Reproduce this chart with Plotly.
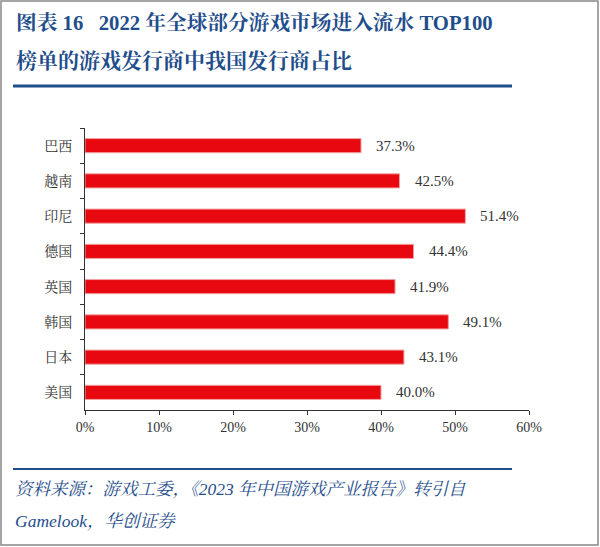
import plotly.graph_objects as go

categories = ["巴西", "越南", "印尼", "德国", "英国", "韩国", "日本", "美国"]
values = [37.3, 42.5, 51.4, 44.4, 41.9, 49.1, 43.1, 40.0]
value_labels = ["37.3%", "42.5%", "51.4%", "44.4%", "41.9%", "49.1%", "43.1%", "40.0%"]
x_ticks = [0, 10, 20, 30, 40, 50, 60]
x_tick_labels = ["0%", "10%", "20%", "30%", "40%", "50%", "60%"]

W, H = 600, 547
L, R, T, B = 85, 529, 128, 410

def px(x):
    return (x - L) / (R - L)

def py(y):
    return (B - y) / (B - T)

SERIF = "Liberation Serif, Noto Serif CJK SC, Noto Sans CJK SC, serif"
BLUE = "#1f4e8c"

fig = go.Figure()
fig.add_trace(go.Bar(
    y=categories, x=values, orientation="h",
    marker=dict(color="#e8080f", line=dict(color="#f4a0a0", width=1)),
    width=0.4, hoverinfo="skip",
))

for cat, v, lab in zip(categories, values, value_labels):
    fig.add_annotation(x=v, y=cat, xref="x", yref="y", text=lab, showarrow=False,
                       xanchor="left", yanchor="middle", xshift=13,
                       font=dict(family=SERIF, size=15, color="#333333"))

fig.update_layout(
    width=W, height=H,
    margin=dict(l=L, r=W - R, t=T, b=H - B, autoexpand=False),
    paper_bgcolor="white", plot_bgcolor="white",
    showlegend=False,
    font=dict(family=SERIF, size=13, color="#333333"),
    xaxis=dict(range=[0, 60], tickvals=x_ticks, ticktext=x_tick_labels,
               showgrid=False, zeroline=False, showline=True, linecolor="#333333",
               linewidth=1, ticks="outside", ticklen=4, tickcolor="#333333",
               tickfont=dict(family=SERIF, size=14, color="#333333")),
    yaxis=dict(type="category", categoryorder="array", categoryarray=categories,
               autorange="reversed", showgrid=False, zeroline=False,
               showline=True, linecolor="#333333", linewidth=1,
               ticks="outside", ticklen=4, tickcolor="#333333", tickson="boundaries",
               ticklabelstandoff=9,
               tickfont=dict(family=SERIF, size=14, color="#333333")),
)

# Title text
fig.add_annotation(xref="paper", yref="paper", x=px(14), y=py(22), xanchor="left", yanchor="middle",
                   text="<b>图表 16   2022 年全球部分游戏市场进入流水 TOP100</b>", showarrow=False,
                   font=dict(family=SERIF, size=20.7, color=BLUE))
fig.add_annotation(xref="paper", yref="paper", x=px(14), y=py(61), xanchor="left", yanchor="middle",
                   text="<b>榜单的游戏发行商中我国发行商占比</b>", showarrow=False,
                   font=dict(family=SERIF, size=21, color=BLUE))
# Footer text
fig.add_annotation(xref="paper", yref="paper", x=px(13), y=py(489), xanchor="left", yanchor="middle",
                   text="<i>资料来源：游戏工委，《2023 年中国游戏产业报告》转引自</i>", showarrow=False,
                   font=dict(family=SERIF, size=17.5, color=BLUE))
fig.add_annotation(xref="paper", yref="paper", x=px(13), y=py(521), xanchor="left", yanchor="middle",
                   text="<i>Gamelook，华创证券</i>", showarrow=False,
                   font=dict(family=SERIF, size=17.5, color=BLUE))

# Rules and border
fig.add_shape(type="line", xref="paper", yref="paper", x0=px(13), x1=px(512), y0=py(86), y1=py(86),
              line=dict(color=BLUE, width=3))
fig.add_shape(type="line", xref="paper", yref="paper", x0=px(13), x1=px(512), y0=py(469), y1=py(469),
              line=dict(color=BLUE, width=2))
fig.add_shape(type="rect", xref="paper", yref="paper", x0=px(1), x1=px(598), y0=py(1), y1=py(545),
              line=dict(color="#888888", width=1.5), fillcolor="rgba(0,0,0,0)")

fig.write_html("out.html", config={"displayModeBar": False},
               post_script="document.body.style.margin='0';document.body.style.overflow='hidden';")
